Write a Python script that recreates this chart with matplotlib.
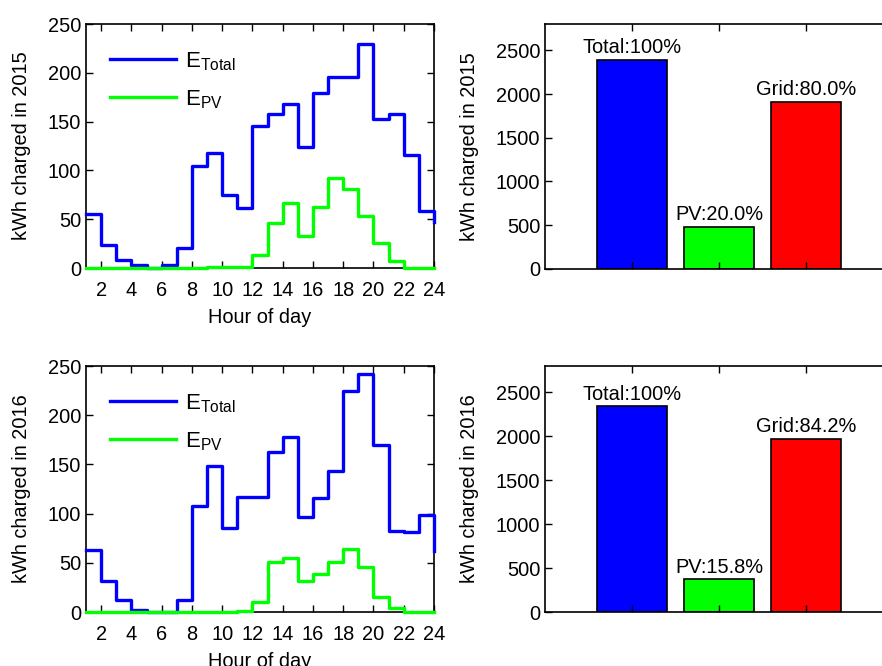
#!/usr/bin/env python3
"""
Hourly EV charging energy (total vs PV) for 2015 and 2016
"""

import matplotlib
matplotlib.use("Agg")
import matplotlib.pyplot as plt
import numpy as np

plt.rcParams["font.family"] = ["Liberation Sans", "DejaVu Sans"]
plt.rcParams["mathtext.fontset"] = "custom"
plt.rcParams["mathtext.rm"] = "Liberation Sans"
plt.rcParams["font.size"] = 14.4

hours = np.arange(1, 25)

# kWh per hour of day
total_2015 = [55, 24, 8, 3, 0, 3, 20, 104, 118, 75, 61, 145,
              158, 168, 124, 179, 196, 196, 230, 153, 158, 116, 58, 47]
pv_2015 = [0, 0, 0, 0, 0, 0, 0, 0, 1, 1, 1, 13,
           46, 67, 33, 63, 92, 81, 53, 26, 7, 0, 0, 0]
total_2016 = [63, 32, 12, 2, 0, 0, 12, 108, 148, 85, 117, 117,
              163, 178, 97, 116, 143, 225, 242, 170, 82, 81, 99, 62]
pv_2016 = [0, 0, 0, 0, 0, 0, 0, 0, 0, 0, 1, 10,
           51, 55, 31, 39, 51, 64, 46, 15, 4, 0, 0, 0]

# yearly totals (kWh) and bar labels
bar_names = ["Total", "PV", "Grid"]
bars_2015 = [2390, 478, 1912]
bars_2016 = [2340, 370, 1970]
labels_2015 = ["Total:100%", "PV:20.0%", "Grid:80.0%"]
labels_2016 = ["Total:100%", "PV:15.8%", "Grid:84.2%"]
bar_colors = ["#0000ff", "#00ff00", "#ff0000"]

W, H = 882, 666


def box(x0, y0, x1, y1):
    """pixel box -> figure fraction rect"""
    return [x0 / W, 1 - y1 / H, (x1 - x0) / W, (y1 - y0) / H]


def style_ticks(ax):
    ax.tick_params(direction="in", length=5, width=1, top=True, right=True)
    ax.tick_params(axis="x", pad=9)
    for s in ax.spines.values():
        s.set_linewidth(1.2)


def plot_hourly(ax, total, pv, year):
    ax.plot(hours, total, drawstyle="steps-post", color="#0000ff", lw=2.4,
            label=r"E$_{\mathrm{Total}}$", clip_on=False, zorder=3)
    ax.plot(hours, pv, drawstyle="steps-post", color="#00ff00", lw=2.4,
            label=r"E$_{\mathrm{PV}}$", clip_on=False, zorder=3)
    ax.set_xlim(1, 24)
    ax.set_ylim(0, 250)
    ax.set_xticks(np.arange(2, 25, 2))
    ax.set_yticks(np.arange(0, 251, 50))
    ax.set_xlabel("Hour of day", labelpad=6)
    ax.set_ylabel(f"kWh charged in {year}", labelpad=12)
    style_ticks(ax)
    ax.legend(loc="upper left", frameon=False, fontsize=16, handlelength=3.0,
              handletextpad=0.4, labelspacing=0.7, borderaxespad=0.0,
              bbox_to_anchor=(0.042, 0.93))


def plot_bars(ax, values, labels, year):
    x = np.arange(1, len(values) + 1)
    ax.bar(x, values, width=0.8, color=bar_colors, edgecolor="black", linewidth=1.2)
    for xi, v, lab in zip(x, values, labels):
        ax.annotate(lab, (xi, v), xytext=(0, 2), textcoords="offset points",
                    ha="center", va="bottom")
    ax.set_xlim(0, 4)
    ax.set_ylim(0, 2800)
    ax.set_xticks(x)
    ax.set_xticklabels([])
    ax.set_yticks(np.arange(0, 2501, 500))
    ax.set_ylabel(f"kWh charged in {year}", labelpad=12)
    style_ticks(ax)


fig = plt.figure(figsize=(W / 100, H / 100), dpi=100)

ax1 = fig.add_axes(box(86, 24, 434, 268))
ax2 = fig.add_axes(box(545, 24, 893, 269))
ax3 = fig.add_axes(box(86, 366, 434, 612))
ax4 = fig.add_axes(box(545, 366, 893, 612))

plot_hourly(ax1, total_2015, pv_2015, 2015)
plot_bars(ax2, bars_2015, labels_2015, 2015)
plot_hourly(ax3, total_2016, pv_2016, 2016)
plot_bars(ax4, bars_2016, labels_2016, 2016)

plt.savefig("out.png", dpi=100)
plt.close()
print("Saved: out.png")
